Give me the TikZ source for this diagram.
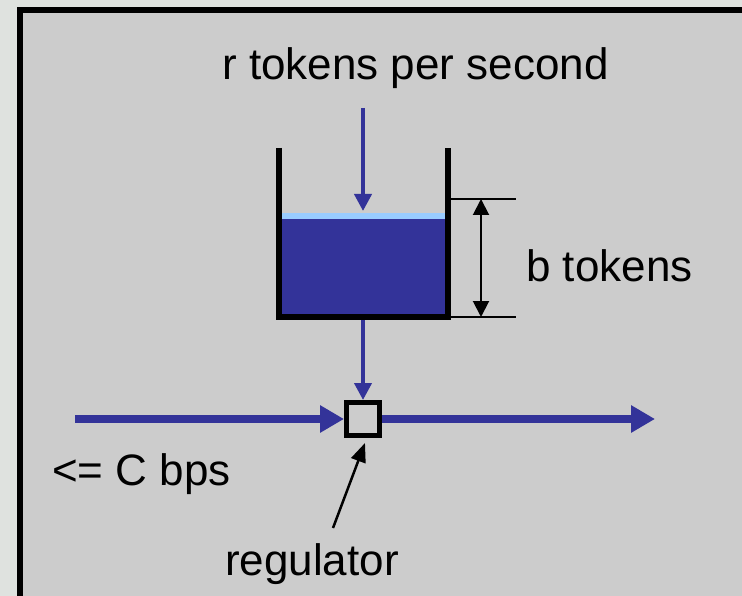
\documentclass[tikz,border=0pt]{standalone}
\usepackage{fontspec}
\setmainfont{Liberation Sans}
\usetikzlibrary{arrows.meta}
\definecolor{flow}{HTML}{333399}
\definecolor{surface}{HTML}{99CCFF}
\definecolor{panel}{HTML}{CCCCCC}
\definecolor{outside}{HTML}{DFE2DF}
\begin{document}
\begin{tikzpicture}[x=1pt,y=-1pt,font=\fontsize{44}{52}\selectfont,
	flowline/.style={draw=flow,line width=4pt,-{Triangle[width=17pt,length=17pt]}},
	mainline/.style={draw=flow,line width=8pt,-{Triangle[width=26pt,length=24pt]}},
	dimline/.style={draw=black,line width=2pt},
	label/.style={inner sep=0pt}]
					\useasboundingbox (0,0) rectangle (742,596);
					\clip (0,0) rectangle (742,596);
					\fill[outside] (0,0) rectangle (742,596);
					\draw[line width=6pt,fill=panel] (20,10) rectangle (770,620);
					\fill[flow] (282,216) rectangle (445,315);
					\fill[surface] (282,213) rectangle (445,219);
					\draw[line width=6pt,line join=miter] (279,148)--(279,317)--(448,317)--(448,148);
					\node[draw,line width=5pt,fill=panel,minimum size=33pt,inner sep=0pt] (reg) at (363,419) {};
					\coordinate (in) at (363,108);
					\coordinate (out) at (363,320);
					\coordinate (src) at (75,419);
					\coordinate (dst) at (655,419);
					\coordinate (tail) at (333,528);
					\coordinate (top) at (481,199);
					\coordinate (bot) at (481,317);
					\draw[flowline] (in)--(363,211);
					\draw[flowline] (out)--(reg.north);
					\draw[mainline] (src)--(reg.west);
					\draw[mainline] (reg.east)--(dst);
					\draw[dimline] (451,199)--(516,199)  (451,317)--(516,317);
					\draw[dimline,{Triangle[width=16pt,length=16pt]}-{Triangle[width=16pt,length=16pt]}] (top)--(bot);
					\draw[line width=2.5pt,-{Triangle[width=15pt,length=19pt]}] (tail)--(365,443);
					\node[label,anchor=base west] (rate) at (222,80) {r tokens per second};
					\node[label,anchor=base west] (depth) at (526,282) {b tokens};
					\node[label,anchor=base west] (cap) at (52,485) {<= C bps};
					\node[label,anchor=base] (name) at (312,575) {regulator};
				\end{tikzpicture}
\end{document}
